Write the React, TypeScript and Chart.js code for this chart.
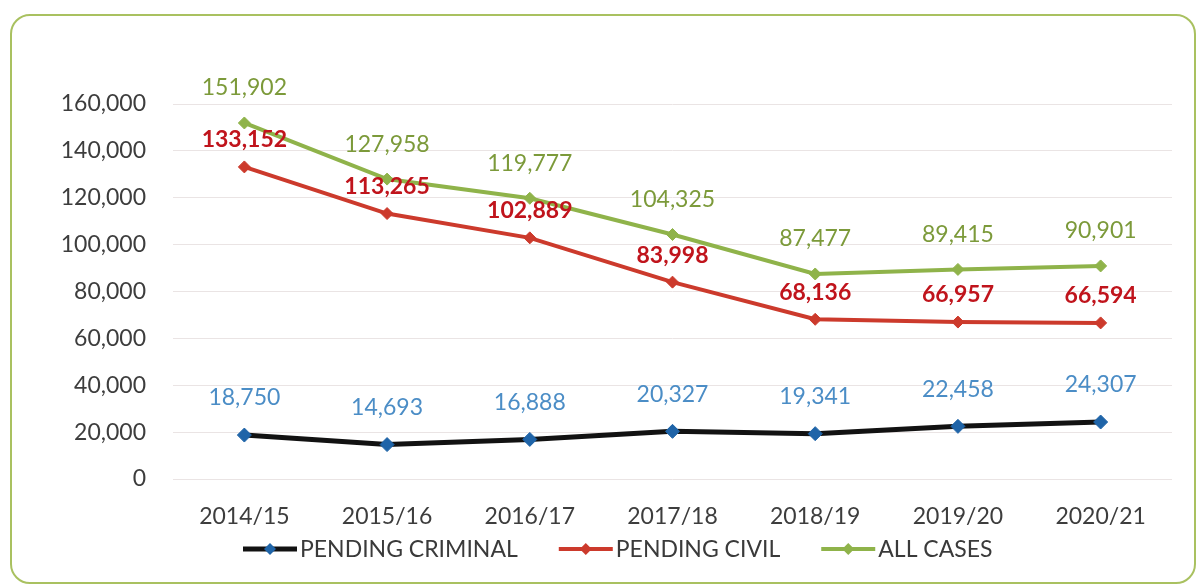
import React, { useEffect, useRef } from "react";
import { Chart, registerables } from "chart.js";

Chart.register(...registerables);

const categories = ["2014/15", "2015/16", "2016/17", "2017/18", "2018/19", "2019/20", "2020/21"];
const pendingCriminal = [18750, 14693, 16888, 20327, 19341, 22458, 24307];
const pendingCivil = [133152, 113265, 102889, 83998, 68136, 66957, 66594];
const allCases = [151902, 127958, 119777, 104325, 87477, 89415, 90901];
const seriesNames = ["PENDING CRIMINAL", "PENDING CIVIL", "ALL CASES"];
const yMin = 0;
const yMax = 160000;
const yStep = 20000;

const FONT = "Lato, 'Open Sans', sans-serif";
const fmt = (v: number) => Number(v).toLocaleString("en-US");

const dataLabelPlugin = {
  id: "dataLabels",
  afterDatasetsDraw(chart: any) {
    const ctx = chart.ctx;
    ctx.save();
    ctx.textAlign = "center";
    ctx.textBaseline = "middle";
    chart.data.datasets.forEach((ds: any, i: number) => {
      const meta = chart.getDatasetMeta(i);
      ctx.font = `${ds.labelWeight} 23px ${FONT}`;
      ctx.fillStyle = ds.labelColor;
      meta.data.forEach((el: any, j: number) => {
        ctx.fillText(fmt(ds.data[j]), el.x, el.y - ds.labelOffset);
      });
    });
    ctx.restore();
  },
};

const legendPlugin = {
  id: "customLegend",
  afterDraw(chart: any) {
    const ctx = chart.ctx;
    ctx.save();
    ctx.font = `23px ${FONT}`;
    ctx.textBaseline = "middle";
    ctx.textAlign = "left";
    const y = 549;
    const lineLen = 54;
    const gapText = 3;
    const gapItem = 41;
    const items = chart.data.datasets.map((ds: any) => ({
      ds,
      w: lineLen + gapText + ctx.measureText(ds.label).width,
    }));
    let x = 243;
    items.forEach(({ ds, w }: any) => {
      ctx.strokeStyle = ds.borderColor;
      ctx.lineWidth = ds.legendLineWidth;
      ctx.lineCap = "butt";
      ctx.beginPath();
      ctx.moveTo(x, y);
      ctx.lineTo(x + lineLen, y);
      ctx.stroke();
      const cx = x + lineLen / 2;
      const r = 6;
      ctx.fillStyle = ds.pointBackgroundColor;
      ctx.beginPath();
      ctx.moveTo(cx, y - r);
      ctx.lineTo(cx + r, y);
      ctx.lineTo(cx, y + r);
      ctx.lineTo(cx - r, y);
      ctx.closePath();
      ctx.fill();
      ctx.fillStyle = "#3a3a3a";
      ctx.fillText(ds.label, x + lineLen + gapText, y + 1);
      x += w + gapItem;
    });
    ctx.restore();
  },
};

function LineChart() {
  const ref = useRef<HTMLCanvasElement | null>(null);
  useEffect(() => {
    if (!ref.current) return;
    const chart = new Chart(ref.current, {
      type: "line",
      data: {
        labels: categories,
        datasets: [
          {
            label: seriesNames[0],
            data: pendingCriminal,
            borderColor: "#121212",
            borderWidth: 5,
            pointStyle: "rectRot",
            pointRadius: 7,
            pointBackgroundColor: "#1f64a8",
            pointBorderColor: "#1f64a8",
            pointBorderWidth: 1,
            labelColor: "#4b8dc6",
            labelWeight: "normal",
            labelOffset: 37,
            legendLineWidth: 5,
          } as any,
          {
            label: seriesNames[1],
            data: pendingCivil,
            borderColor: "#cc3a2c",
            borderWidth: 4,
            pointStyle: "rectRot",
            pointRadius: 6,
            pointBackgroundColor: "#cc3a2c",
            pointBorderColor: "#cc3a2c",
            pointBorderWidth: 1,
            labelColor: "#c0141c",
            labelWeight: "bold",
            labelOffset: 27,
            legendLineWidth: 4,
          } as any,
          {
            label: seriesNames[2],
            data: allCases,
            borderColor: "#8fb34a",
            borderWidth: 4,
            pointStyle: "rectRot",
            pointRadius: 6,
            pointBackgroundColor: "#8fb34a",
            pointBorderColor: "#8fb34a",
            pointBorderWidth: 1,
            labelColor: "#7c9a3a",
            labelWeight: "normal",
            labelOffset: 35,
            legendLineWidth: 4,
          } as any,
        ],
      },
      options: {
        responsive: false,
        animation: false,
        layout: { padding: { top: 104, right: 25, bottom: 0, left: 0 } },
        plugins: {
          legend: { display: false },
          tooltip: { enabled: false },
        },
        scales: {
          x: {
            offset: true,
            grid: { display: false, drawTicks: false },
            border: { display: false },
            ticks: {
              color: "#3d3d3d",
              font: { family: FONT, size: 23 },
              padding: 24,
              maxRotation: 0,
            },
            afterFit(scale: any) {
              scale.height = 108;
            },
          },
          y: {
            min: yMin,
            max: yMax,
            grid: { color: "#eae4e4", lineWidth: 1, drawTicks: false },
            border: { display: false },
            ticks: {
              stepSize: yStep,
              color: "#3d3d3d",
              font: { family: FONT, size: 23 },
              padding: 27,
              callback: (v: any) => fmt(v),
            },
            afterFit(scale: any) {
              scale.width = 173;
            },
          },
        },
      },
      plugins: [dataLabelPlugin, legendPlugin],
    });
    return () => chart.destroy();
  }, []);
  return <canvas ref={ref} width={1197} height={587} style={{ display: "block" }} />;
}

export default function App() {
  return (
    <div style={{ position: "fixed", left: 0, top: 0, width: 1197, height: 587, background: "#fff", overflow: "hidden" }}>
      <div
        style={{
          position: "absolute",
          left: 10,
          top: 14,
          width: 1186,
          height: 570,
          border: "2px solid #a9c160",
          borderRadius: 20,
          boxSizing: "border-box",
        }}
      />
      <div style={{ position: "absolute", left: 0, top: 0 }}>
        <LineChart />
      </div>
    </div>
  );
}
